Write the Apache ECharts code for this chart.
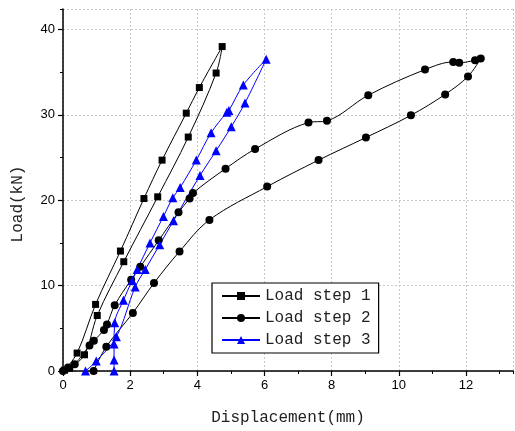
<!DOCTYPE html>
<html>
<head>
<meta charset="utf-8">
<script src="https://cdn.jsdelivr.net/npm/echarts@6/dist/echarts.min.js"></script>
<style>
  html, body { margin: 0; padding: 0; background: #ffffff; overflow: hidden; }
  #chart { width: 515px; height: 431px; }
</style>
</head>
<body>
<div id="chart"></div>
<script>
// Load–displacement loops for three loading steps (loading branch, then unloading branch)
const seriesNames = ['Load step 1', 'Load step 2', 'Load step 3'];

const step1Disp = [0.05, 0.42, 0.97, 1.71, 2.41, 2.95, 3.67, 4.06, 4.74, 4.56, 3.73, 2.82, 1.81, 1.02, 0.64, 0.20];
const step1Load = [0.1, 2.1, 7.8, 14.05, 20.2, 24.7, 30.2, 33.2, 38.0, 34.9, 27.4, 20.4, 12.8, 6.5, 1.9, 0.3];

const step2Disp = [0.0, 0.15, 0.35, 0.79, 0.92, 1.22, 1.31, 1.54, 2.03, 2.30, 2.85, 3.44, 3.77, 3.87, 4.84, 5.72,
                   7.31, 7.86, 9.09, 10.78, 11.62, 11.80, 12.27, 12.44,
                   12.06, 11.38, 10.36, 9.02, 7.61, 6.08, 4.36, 3.47, 2.71, 2.08, 1.29, 0.91];
const step2Load = [0.0, 0.4, 0.8, 3.0, 3.55, 4.8, 5.45, 7.7, 10.7, 12.2, 15.3, 18.6, 20.2, 20.85, 23.7, 26.0,
                   29.1, 29.3, 32.3, 35.3, 36.2, 36.1, 36.4, 36.6,
                   34.5, 32.4, 29.95, 27.35, 24.7, 21.6, 17.7, 14.0, 10.3, 6.8, 2.85, 0.0];

const step3Disp = [1.52, 1.52, 1.52, 1.54, 1.80, 2.06, 2.21, 2.59, 2.99, 3.27, 3.49, 3.97, 4.41, 4.88, 4.94, 5.37, 6.05,
                   5.42, 5.01, 4.56, 4.08, 3.29, 2.88, 2.45, 2.15, 1.59, 0.99, 0.67];
const step3Load = [0.0, 1.3, 3.15, 5.65, 8.3, 10.6, 11.9, 15.0, 18.1, 20.3, 21.5, 24.7, 27.9, 30.3, 30.5, 33.5, 36.5,
                   31.4, 28.6, 25.8, 22.9, 17.6, 14.8, 11.9, 9.85, 4.0, 1.17, 0.0];

const xTicks = [0, 2, 4, 6, 8, 10, 12];
const yTicks = [0, 10, 20, 30, 40];

const X_MAX = 13.4;
const Y_MAX = 42.4;

const pairs = (xs, ys) => xs.map((x, i) => [x, ys[i]]);

const serifMono = '"Liberation Mono", "DejaVu Sans Mono", monospace';
const sans = '"Liberation Sans", Arial, sans-serif';

const chart = echarts.init(document.getElementById('chart'), null, { renderer: 'canvas' });

function lineSeries(name, data, color, symbol, size) {
  return {
    name, type: 'line', data,
    smooth: 0.35,
    symbol, symbolSize: size,
    showAllSymbol: true,
    clip: false,
    lineStyle: { color, width: 1 },
    itemStyle: { color, borderWidth: 0 },
    emphasis: { disabled: true },
    animation: false
  };
}

// axis that only carries the short minor ticks
function minorTickAxis(max, interval, position) {
  return {
    type: 'value', min: 0, max, interval, position, offset: 0,
    axisLine: { show: false },
    axisTick: { show: true, inside: false, length: 3, lineStyle: { color: '#000', width: 1 } },
    axisLabel: { show: false },
    splitLine: { show: false }
  };
}

chart.setOption({
  animation: false,
  backgroundColor: '#ffffff',
  grid: { left: 63, right: 2, top: 9, bottom: 58, containLabel: false },
  xAxis: [
    {
      type: 'value', min: 0, max: X_MAX, interval: 2, position: 'bottom',
      name: 'Displacement(mm)', nameLocation: 'middle', nameGap: 39,
      nameTextStyle: { fontFamily: serifMono, fontSize: 16, color: '#222' },
      axisLine: { show: true, onZero: false, lineStyle: { color: '#000', width: 1.5 } },
      axisTick: { show: true, inside: false, length: 5, lineStyle: { color: '#000', width: 1.2 } },
      axisLabel: {
        fontFamily: sans, fontSize: 13, color: '#000', margin: 8, showMaxLabel: false,
        formatter: v => (xTicks.includes(v) ? String(v) : '')
      },
      splitLine: { show: true, lineStyle: { color: '#c8c8c8', type: [2, 2], width: 1 } }
    },
    minorTickAxis(X_MAX, 1, 'bottom')
  ],
  yAxis: [
    {
      type: 'value', min: 0, max: Y_MAX, interval: 10, position: 'left',
      name: 'Load(kN)', nameLocation: 'middle', nameGap: 37, nameRotate: 90,
      nameTextStyle: { fontFamily: serifMono, fontSize: 16, color: '#222', padding: [0, 28, 0, 0] },
      axisLine: { show: true, onZero: false, lineStyle: { color: '#000', width: 1.5 } },
      axisTick: { show: true, inside: false, length: 5, lineStyle: { color: '#000', width: 1.2 } },
      axisLabel: {
        fontFamily: sans, fontSize: 13, color: '#000', margin: 8, showMaxLabel: false,
        formatter: v => (yTicks.includes(v) ? String(v) : '')
      },
      splitLine: { show: true, lineStyle: { color: '#c8c8c8', type: [2, 2], width: 1 } }
    },
    minorTickAxis(Y_MAX, 5, 'left')
  ],
  legend: {
    orient: 'vertical', left: 212, top: 283,
    padding: [5, 8, 5, 9],
    itemWidth: 38, itemHeight: 10, itemGap: 6,
    borderColor: '#000', borderWidth: 1.2, backgroundColor: '#fff',
    textStyle: { fontFamily: serifMono, fontSize: 16, color: '#222', padding: [0, 0, 0, 0] },
    data: seriesNames
  },
  series: [
    lineSeries(seriesNames[0], pairs(step1Disp, step1Load), '#000000', 'rect', 7),
    lineSeries(seriesNames[1], pairs(step2Disp, step2Load), '#000000', 'circle', 8),
    lineSeries(seriesNames[2], pairs(step3Disp, step3Load), '#0000ff', 'triangle', 9)
  ]
});
</script>
</body>
</html>
